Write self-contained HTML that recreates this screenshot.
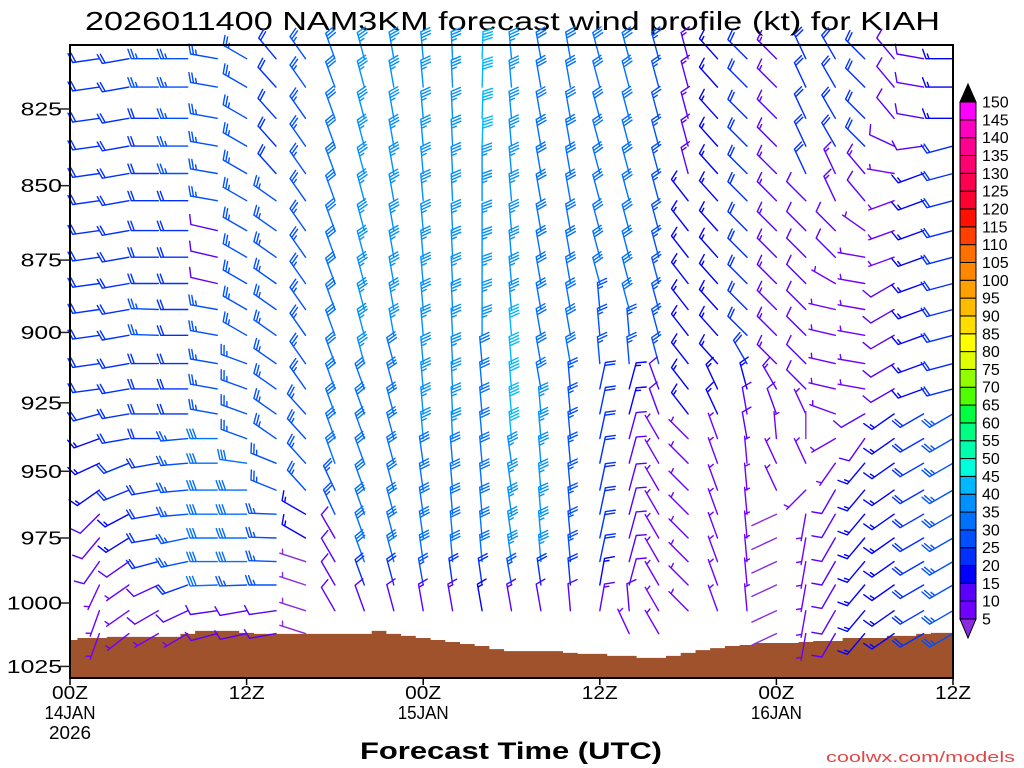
<!DOCTYPE html>
<html><head><meta charset="utf-8"><style>
html,body{margin:0;padding:0;background:#fff;}
svg{display:block;font-family:"Liberation Sans",sans-serif;}
</style></head><body>
<svg id="chart" width="1024" height="768" viewBox="0 0 1024 768" xmlns="http://www.w3.org/2000/svg">
<rect x="0" y="0" width="1024" height="768" fill="#fff"/>
<text x="85" y="30" font-size="26" textLength="855" lengthAdjust="spacingAndGlyphs" fill="#000">2026011400 NAM3KM forecast wind profile (kt) for KIAH</text>
<g id="terrain"></g>
<g id="barbs"></g>
<g id="axes"></g>
<g id="cbar"></g>
<text x="360" y="759" font-size="24" font-weight="bold" textLength="302" lengthAdjust="spacingAndGlyphs" fill="#000">Forecast Time (UTC)</text>
<text x="826" y="762" font-size="15" textLength="189" lengthAdjust="spacingAndGlyphs" fill="#e04848">coolwx.com/models</text>
</svg>
<script>
// ---- data ----
const hours = [2,4,6,8,10,12,14,16,18,20,22,24,26,28,30,32,34,36,38,40,42,44,46,48,50,52,54,56,58,60];
const levels = [809,818,828,837,846,855,865,874,883,892,901,911,920,929,938,947,957,966,975,984,993,1003,1012];
const lowestRow = [22,22,22,22,22,22,22,22,21,21,21,21,21,21,21,21,21,21,22,22,21,21,21,22,22,22,22,22,22,22];
const dirs = [
[262,262,262,262,262,262,262,262,262,262,262,262,262,255,250,245,235,225,220,215,205,200,200],
[260,260,260,260,260,260,260,260,260,260,260,260,260,260,260,248,248,242,238,235,235,235,232],
[270,270,270,270,270,270,270,270,270,272,272,270,270,270,270,260,260,260,260,255,245,240,240],
[270,270,270,270,270,270,270,270,270,270,270,270,270,270,265,265,265,265,258,258,250,245,240],
[280,280,280,280,280,280,283,283,283,280,280,280,280,280,270,270,270,270,270,270,268,262,255],
[300,300,300,300,300,300,300,300,300,300,300,290,290,290,290,278,270,270,270,270,268,260,258],
[320,318,318,318,318,305,305,305,305,305,305,305,305,305,305,292,292,272,272,272,270,262,260],
[325,325,325,325,325,325,325,325,325,325,325,325,325,318,318,318,318,300,300,288,288,288,288],
[340,340,340,340,340,340,340,340,340,340,340,340,340,340,340,340,335,335,330,330,330,330,330],
[345,345,345,345,345,345,345,345,345,345,345,345,340,340,340,340,340,340,340,340,340,340,340],
[350,350,350,350,350,350,350,350,350,350,350,345,345,345,345,345,345,345,345,345,345,345,345],
[355,355,355,355,355,355,355,355,355,355,355,355,355,355,355,352,352,352,352,352,350,350,350],
[357,357,357,357,357,357,357,357,357,357,357,357,357,357,357,355,355,355,355,355,352,350,350],
[2,2,2,2,360,360,360,360,360,360,360,355,355,355,355,355,355,355,355,355,352,350,350],
[355,355,355,355,355,355,355,355,355,355,355,355,355,355,355,352,352,352,352,352,350,350,350],
[350,350,350,350,350,350,350,350,350,350,350,350,350,355,355,355,355,355,355,355,352,350,350],
[350,350,350,350,350,350,350,350,350,350,350,350,355,355,355,355,355,355,355,355,355,355,355],
[345,345,345,345,345,345,345,345,345,355,355,355,12,12,12,12,12,12,12,12,10,10,10],
[345,345,345,345,345,345,345,345,345,345,355,355,15,15,15,15,15,15,15,15,15,355,335],
[345,345,345,345,345,345,345,345,345,345,345,345,340,340,330,330,330,330,330,330,330,330,330],
[345,345,345,345,345,322,322,322,322,322,322,322,322,322,315,315,315,315,315,315,315,315,315],
[318,318,318,318,318,318,318,318,318,318,318,318,335,335,340,340,340,340,340,340,340,340,340],
[315,315,315,315,315,315,315,315,315,315,315,330,345,350,350,355,355,355,355,355,355,355,355],
[315,315,315,315,315,315,315,315,315,315,315,315,330,340,355,335,335,245,245,245,245,245,245],
[335,335,335,335,335,315,315,315,315,315,315,315,315,335,0,335,225,190,190,190,190,190,190],
[330,330,330,330,335,335,315,315,300,283,283,283,283,290,240,215,210,210,210,210,210,210,210],
[315,315,315,315,320,320,305,280,280,280,280,280,280,240,215,220,220,220,220,220,220,220,220],
[320,320,320,295,280,250,250,250,240,240,240,240,240,235,235,235,235,235,235,235,235,235,235],
[280,280,280,262,250,250,250,250,250,250,250,250,250,240,240,240,240,240,240,240,240,240,240],
[270,270,270,255,255,255,255,255,255,255,255,255,255,240,240,240,240,240,240,240,240,240,240]
];
const speeds = [
[20,20,20,20,20,20,20,20,20,20,20,20,20,20,18,18,15,10,10,10,8,8,8],
[20,20,20,20,20,20,20,20,20,20,20,20,20,20,20,20,20,18,15,12,8,8,8],
[25,25,20,20,20,20,20,20,20,25,25,22,22,22,22,23,23,23,23,20,10,10,8],
[25,25,25,25,25,20,20,20,20,20,20,20,20,20,25,25,25,25,25,25,20,10,8],
[25,25,25,25,25,25,12,12,12,25,25,25,25,25,30,30,30,30,30,30,30,12,10],
[25,25,25,25,25,25,25,25,25,25,25,25,25,25,25,30,30,30,30,30,25,12,10],
[20,20,20,20,20,25,25,25,25,25,25,25,25,25,25,25,25,28,28,28,25,10,10],
[25,25,25,25,25,25,25,25,25,25,25,25,25,25,25,25,25,15,15,4,4,4,4],
[30,30,30,30,30,30,30,30,30,30,30,30,30,30,30,30,25,25,13,13,13,13,13],
[37,37,37,37,37,37,37,37,37,37,37,37,32,32,32,32,32,32,32,32,22,13,13],
[38,38,38,38,38,38,38,38,38,38,38,33,33,33,33,33,33,33,33,33,22,13,13],
[38,38,38,38,38,38,38,38,38,38,38,38,38,38,38,33,33,33,33,33,25,14,14],
[38,38,38,38,38,38,38,38,38,38,38,38,38,38,38,33,33,33,33,33,22,14,14],
[42,42,42,42,37,37,37,37,37,37,37,33,33,33,33,33,33,33,33,33,22,18,18],
[38,38,38,38,38,38,38,38,38,38,42,42,42,42,42,35,35,35,35,35,25,14,14],
[33,33,33,33,33,33,33,33,33,33,33,33,33,37,37,37,37,37,37,37,22,13,13],
[33,33,33,33,33,33,33,33,33,33,33,33,28,28,28,28,28,28,28,28,20,12,12],
[33,33,33,33,33,33,33,33,33,25,25,25,22,22,22,22,22,22,22,22,17,14,14],
[33,33,33,33,33,33,33,33,33,33,25,25,18,18,13,13,13,13,13,13,13,10,8],
[28,28,28,28,28,28,28,28,28,28,28,28,12,12,8,8,8,8,8,8,8,8,7],
[14,14,14,14,14,15,15,15,15,15,15,15,15,15,8,8,8,8,8,8,8,8,8],
[16,16,16,16,16,16,16,16,16,16,16,16,17,17,8,8,8,8,8,8,8,8,8],
[20,20,20,20,20,20,20,20,20,20,20,20,16,10,10,6,6,6,6,6,6,6,6],
[14,14,14,14,14,14,14,14,14,14,14,14,14,10,6,6,6,3,3,3,3,3,3],
[20,20,20,20,20,10,10,10,10,10,10,10,10,6,3,6,6,6,6,6,6,6,6],
[20,20,20,20,14,14,10,10,6,6,6,6,6,6,6,6,12,12,12,12,12,12,12],
[20,20,20,20,14,10,8,7,7,7,7,7,7,10,12,18,18,18,18,18,18,18,18],
[12,12,12,10,6,8,8,8,10,10,10,10,10,18,18,18,18,18,18,18,18,18,18],
[10,10,10,12,18,18,18,18,18,18,18,18,18,23,23,23,23,23,23,23,23,23,23],
[16,16,16,20,20,20,20,20,20,20,20,20,20,28,28,28,28,28,28,28,28,28,28]
];
// hourly surface pressure (hours 0..60)
const surfaceP = [1014.5,1013.7,1013.7,1013.3,1013.3,1013.3,1013.3,1013.3,1012.1,1010.9,1010.9,1010.9,1011.7,1012.1,1012.1,1012.1,1012.1,1012.1,1012.1,1012.1,1012.1,1010.9,1012.1,1012.9,1013.7,1014.5,1015.3,1016.1,1016.9,1018.1,1018.9,1018.9,1018.9,1018.9,1019.6,1020.0,1020.0,1020.8,1020.8,1021.6,1021.6,1020.8,1019.6,1018.5,1017.7,1016.9,1016.5,1015.7,1015.7,1015.7,1015.3,1014.9,1014.9,1013.7,1013.7,1013.7,1012.9,1012.9,1012.1,1011.7,1011.7];
const yTicks = [825,850,875,900,925,950,975,1000,1025];
const xTickHours = [0,12,24,36,48,60];
const xTickTop = ['00Z','12Z','00Z','12Z','00Z','12Z'];
const xTickDay = ['14JAN','','15JAN','','16JAN',''];
const cbarLevels = [5,10,15,20,25,30,35,40,45,50,55,60,65,70,75,80,85,90,95,100,105,110,115,120,125,130,135,140,145,150];
const cbarColors = ['#8a2be2','#7000ff','#5a00ff','#0000ff','#0030ff','#0050ff','#0070ff','#0090ff','#00b8ff','#00ffdd','#00ffaa','#00ff80','#00ff40','#50ff00','#90ff00','#e0ff00','#ffff00','#ffdd00','#ffbb00','#ffa000','#ff8800','#ff7000','#ff4000','#ff1000','#ff0030','#ff0050','#ff0070','#ff0090','#ff00c0','#ff00ff','#000000'];

// ---- scales ----
const X0=70, X1=953, Y0=45, Y1=678;
const xOf = h => X0 + (X1-X0)*h/60;
const yOf = p => 109 + 2568*Math.log(p/825);
const NS='http://www.w3.org/2000/svg';
function mk(tag, attrs, parent){const e=document.createElementNS(NS,tag);for(const k in attrs)e.setAttribute(k,attrs[k]);parent.appendChild(e);return e;}
const colorOf = s => cbarColors[Math.min(30, Math.floor(s/5))];

// terrain
const terr = document.getElementById('terrain');
let d = 'M'+X0+' '+Y1;
for(let h=0; h<=60; h++){
  const xa = Math.max(X0, xOf(h-0.5)), xb = Math.min(X1, xOf(h+0.5));
  const y = yOf(surfaceP[h]);
  d += ' L'+xa.toFixed(1)+' '+y.toFixed(1)+' L'+xb.toFixed(1)+' '+y.toFixed(1);
}
d += ' L'+X1+' '+Y1+' Z';
const tp = mk('path',{d:d,fill:'#a0522d'},terr);



// barbs
const bg = document.getElementById('barbs');
const L = 27, BL = 10, SP = 3;
hours.forEach((h,c)=>{
  for(let r=0; r<levels.length; r++){
    if(r>lowestRow[c]) continue;
    const dir = dirs[c][r], s = speeds[c][r];
    const sx = xOf(h), sy = yOf(levels[r]);
    const a = dir*Math.PI/180;
    const ux = Math.sin(a), uy = -Math.cos(a);
    const rx = -uy, ry = ux;
    const tx = sx + L*ux, ty = sy + L*uy;
    let path = 'M'+sx.toFixed(1)+' '+sy.toFixed(1)+' L'+tx.toFixed(1)+' '+ty.toFixed(1);
    const rs = Math.floor((s+1.5)/5)*5;
    let n10 = Math.floor(rs/10), half = (rs%10)===5;
    let pos = 0;
    if(n10===0 && half) pos = 1;
    for(let i=0;i<n10;i++){
      const ax = tx - pos*SP*ux, ay = ty - pos*SP*uy;
      path += ' M'+ax.toFixed(1)+' '+ay.toFixed(1)+' L'+(ax+BL*(0.94*rx+0.34*ux)).toFixed(1)+' '+(ay+BL*(0.94*ry+0.34*uy)).toFixed(1);
      pos++;
    }
    if(half){
      const ax = tx - pos*SP*ux, ay = ty - pos*SP*uy;
      path += ' M'+ax.toFixed(1)+' '+ay.toFixed(1)+' L'+(ax+BL*0.5*(0.94*rx+0.34*ux)).toFixed(1)+' '+(ay+BL*0.5*(0.94*ry+0.34*uy)).toFixed(1);
    }
    const p = mk('path',{d:path,stroke:colorOf(s),'stroke-width':1.4,fill:'none','stroke-linecap':'round'},bg);
    
    
  }
});

// axes
const ax = document.getElementById('axes');
const fr = mk('rect',{x:X0,y:Y0,width:X1-X0,height:Y1-Y0,fill:'none',stroke:'#000','stroke-width':2},ax);


yTicks.forEach(p=>{
  const y = yOf(p);
  const t = mk('line',{x1:60,y1:y,x2:X0,y2:y,stroke:'#222','stroke-width':1.5},ax);
  
  
  const s = String(p);
  const tx = mk('text',{x:62-s.length*13.8,y:y+6.5,'font-size':18,textLength:s.length*13.8,lengthAdjust:'spacingAndGlyphs',fill:'#000'},ax);
  tx.textContent = s;
  
  
});
xTickHours.forEach((h,i)=>{
  const x = xOf(h);
  const t = mk('line',{x1:x,y1:Y1,x2:x,y2:Y1+7,stroke:'#000','stroke-width':1.5},ax);
  
  
  const a = mk('text',{x:x,y:699,'font-size':18,'text-anchor':'middle',textLength:36,lengthAdjust:'spacingAndGlyphs',fill:'#000'},ax);
  a.textContent = xTickTop[i];
  
  
  if(xTickDay[i]){
    const b = mk('text',{x:x,y:719,'font-size':18,'text-anchor':'middle',textLength:51,lengthAdjust:'spacingAndGlyphs',fill:'#000'},ax);
    b.textContent = xTickDay[i];
    
    
  }
});
const yr = mk('text',{x:xOf(0),y:739,'font-size':18,'text-anchor':'middle',textLength:42,lengthAdjust:'spacingAndGlyphs',fill:'#000'},ax);
yr.textContent='2026';



// colorbar
const cb = document.getElementById('cbar');
const CT=102, CB=619, CX0=960, CX1=976;
const step = (CB-CT)/29;
for(let i=0;i<29;i++){
  const yb = CB - i*step;
  const r = mk('rect',{x:CX0,y:yb-step,width:CX1-CX0,height:step,fill:cbarColors[i+1],stroke:'#000','stroke-width':1},cb);
  
  
}
const tb = mk('polygon',{points:CX0+','+CB+' '+CX1+','+CB+' '+((CX0+CX1)/2)+','+(CB+19),fill:cbarColors[0],stroke:'#000','stroke-width':1},cb);


const tt = mk('polygon',{points:CX0+','+CT+' '+CX1+','+CT+' '+((CX0+CX1)/2)+','+(CT-18),fill:'#000',stroke:'#000','stroke-width':1},cb);


cbarLevels.forEach((v,i)=>{
  const y = CB - i*step;
  const t = mk('text',{x:982,y:y+5.5,'font-size':16,fill:'#000'},cb);
  t.textContent = v;
  
  
});
</script>
</body></html>
